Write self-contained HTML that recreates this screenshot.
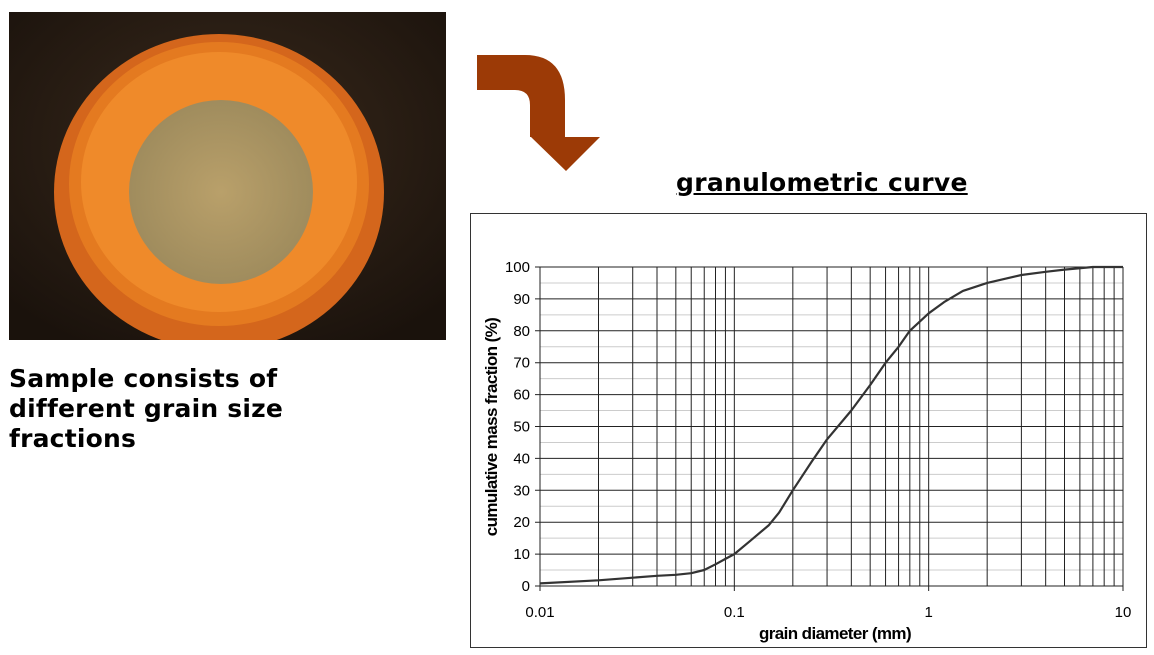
<!DOCTYPE html>
<html><head><meta charset="utf-8"><style>
body{margin:0;width:1154px;height:655px;background:#fff;overflow:hidden;position:relative;font-family:"Liberation Sans",sans-serif}
.cap{position:absolute;left:9px;top:364px;font:bold 25px/30px "DejaVu Sans",sans-serif;color:#000;letter-spacing:0.2px}
.title{position:absolute;left:676px;top:168px;font:bold 25px "DejaVu Sans",sans-serif;text-decoration:underline;color:#000;letter-spacing:0.3px}
</style></head><body>
<svg style="position:absolute;left:9px;top:12px" width="437" height="328">
<defs>
<radialGradient id="bg" cx="50%" cy="40%" r="70%"><stop offset="0" stop-color="#3a2a1c"/><stop offset="1" stop-color="#1a120c"/></radialGradient>
<radialGradient id="sand" cx="50%" cy="50%" r="55%"><stop offset="0" stop-color="#b9a06a"/><stop offset="1" stop-color="#9d8a5c"/></radialGradient>
</defs>
<rect width="437" height="328" fill="url(#bg)"/>
<ellipse cx="210" cy="180" rx="165" ry="158" fill="#d4661c"/>
<ellipse cx="210" cy="172" rx="150" ry="142" fill="#e47a20"/>
<ellipse cx="210" cy="170" rx="138" ry="130" fill="#ef8a2a"/>
<ellipse cx="212" cy="180" rx="92" ry="92" fill="url(#sand)"/>
</svg>
<div class="cap">Sample consists of<br>different grain size<br>fractions</div>
<svg style="position:absolute;left:470px;top:50px" width="140" height="130">
<path d="M7 5 H55 Q95 5 95 50 V87 H130 L96 121 L61 87 H60 V55 Q60 40 45 40 H7 Z" fill="#9c3a06"/>
</svg>
<div class="title">granulometric curve</div>
<svg id="chart" style="position:absolute;left:0;top:0" width="1154" height="655"></svg>
<script>
const diam=[0.01,0.02,0.03,0.04,0.05,0.06,0.07,0.08,0.09,0.1,0.12,0.15,0.17,0.2,0.25,0.3,0.4,0.5,0.6,0.7,0.8,1,1.2,1.5,2,3,4,5,7,10];
const massPct=[0.8,1.8,2.6,3.2,3.5,4,5,6.8,8.5,10,14,19,23,30,39,46,55,63,70,75,80,85.5,89,92.5,95,97.5,98.5,99.2,100,100];
const yTicks=[0,10,20,30,40,50,60,70,80,90,100];
const xTicks=[0.01,0.1,1,10];
const xTickLabels=["0.01","0.1","1","10"];
const NS="http://www.w3.org/2000/svg";
const svg=document.getElementById('chart');
const X0=540,X1=1123,Y0=586,Y1=267;
const xs=v=>X0+(Math.log10(v)+2)/3*(X1-X0);
const ys=v=>Y0-v/100*(Y0-Y1);
function mk(t,a,p){const e=document.createElementNS(NS,t);for(const k in a)e.setAttribute(k,a[k]);(p||svg).appendChild(e);return e;}
const frame=mk('rect',{x:470.5,y:213.5,width:676,height:434,fill:'#fff',stroke:'#333','stroke-width':1});


for(let v=5;v<100;v+=10){const l=mk('line',{x1:X0,x2:X1,y1:ys(v),y2:ys(v),stroke:'#ccc','stroke-width':1});

}
yTicks.forEach(v=>{const l=mk('line',{x1:X0-5,x2:X1,y1:ys(v),y2:ys(v),stroke:'#222','stroke-width':1});


const t=mk('text',{x:X0-10,y:ys(v)+5,'text-anchor':'end','font-size':15,fill:'#000'});t.textContent=v;

});
for(let d=0.01;d<10;d*=10){for(let m=1;m<=9;m++){const v=d*m;const l=mk('line',{x1:xs(v),x2:xs(v),y1:Y1,y2:Y0+(m==1?5:0),stroke:'#222','stroke-width':1});

}}
const lr=mk('line',{x1:X1,x2:X1,y1:Y1,y2:Y0+5,stroke:'#222'});


xTicks.forEach((v,i)=>{const t=mk('text',{x:xs(v),y:Y0+31,'text-anchor':'middle','font-size':15,fill:'#000'});t.textContent=xTickLabels[i];

});
const pth=mk('path',{d:diam.map((d,i)=>(i?'L':'M')+xs(d).toFixed(1)+' '+ys(massPct[i]).toFixed(1)).join(' '),fill:'none',stroke:'#333','stroke-width':2.2,'stroke-linejoin':'round'});


const xt=mk('text',{x:835,y:639,'text-anchor':'middle','font-size':17,'font-weight':'bold',fill:'#000','letter-spacing':'-0.6'});xt.textContent='grain diameter (mm)';


const yt=mk('text',{x:0,y:0,'text-anchor':'middle','font-size':17,'font-weight':'bold',fill:'#000','letter-spacing':'-0.6',transform:'translate(497,427) rotate(-90)'});yt.textContent='cumulative mass fraction (%)';


</script>
</body></html>
